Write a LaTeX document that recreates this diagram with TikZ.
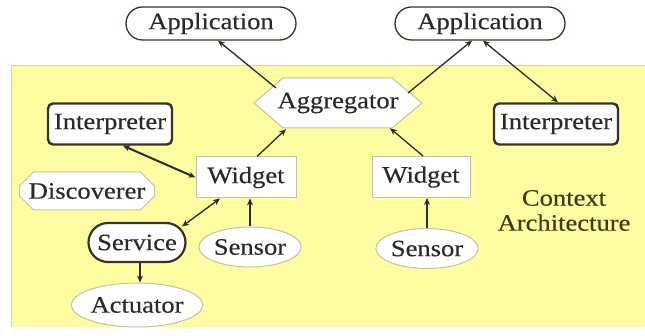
\documentclass[tikz,border=0pt]{standalone}
\usepackage{fontspec}
\setmainfont{Liberation Serif}[FakeStretch=1.13,FakeBold=0.3]
\usetikzlibrary{shapes.geometric,shapes.misc,arrows.meta,calc}

\definecolor{panel}{RGB}{255,253,162}
\definecolor{paneledge}{RGB}{215,213,165}
\definecolor{darkedge}{RGB}{55,52,36}
\definecolor{softedge}{RGB}{196,194,165}
\definecolor{ink}{RGB}{42,42,38}
\definecolor{olive}{RGB}{62,60,22}

\begin{document}
\begin{tikzpicture}[x=1pt,y=-1pt,
  every node/.style={font=\fontsize{23.5}{25}\selectfont, text=ink, inner sep=0pt},
  appbox/.style={rounded rectangle, draw=darkedge, line width=1.3pt, fill=white,
    minimum width=170pt, minimum height=33pt},
  interp/.style={rectangle, rounded corners=5pt, draw=darkedge, line width=2.4pt,
    fill=white, minimum width=124pt, minimum height=41pt},
  widgetbox/.style={rectangle, draw=softedge, line width=1pt, fill=white,
    minimum width=100pt, minimum height=41pt},
  oval/.style={ellipse, draw=softedge, line width=1pt, fill=white,
    minimum width=94pt, minimum height=40pt},
  servbox/.style={rounded rectangle, draw=darkedge, line width=2.2pt, fill=white,
    minimum width=97pt, minimum height=39pt},
  discbox/.style={chamfered rectangle, chamfered rectangle xsep=7pt,
    chamfered rectangle ysep=7pt, draw=softedge, line width=1pt, fill=white,
    minimum width=135pt, minimum height=38pt},
  conn/.style={draw=ink, line width=1.3pt, -{Stealth[length=7pt,width=6pt]}},
  dconn/.style={draw=ink, line width=1.3pt, {Stealth[length=7pt,width=6pt]}-{Stealth[length=7pt,width=6pt]}},
]
\useasboundingbox (0,0) rectangle (645,336);

% yellow panel holding the context architecture
\fill[panel] (11,65) rectangle (645,327);
\draw[paneledge, line width=0.8pt] (645,65) -- (11,65) -- (11,327);

% applications outside the panel
\node[appbox] (app1) at (211,23.5) {Application};
\node[appbox] (app2) at (480,23.5) {Application};

% aggregator hexagon
\draw[softedge, line width=1pt, fill=white]
  (254,103) -- (283,78) -- (392,78) -- (422,103) -- (392,128) -- (283,128) -- cycle;
\node[minimum width=167pt, minimum height=50pt] (agg) at (338,103) {Aggregator};

% interpreters
\node[interp] (int1) at (110,124) {Interpreter};
\node[interp] (int2) at (556,124) {Interpreter};

% widgets
\node[widgetbox] (w1) at (246,177.5) {Widget};
\node[widgetbox, minimum width=98pt] (w2) at (421,177) {Widget};

% discoverer, service, sensors, actuator
\node[discbox] (disc) at (87,191) {Discoverer};
\node[servbox] (serv) at (137,242.5) {Service};
\node[oval] (s1) at (250,247) {Sensor};
\node[oval] (s2) at (427,248.5) {Sensor};
\node[oval, minimum width=110pt, minimum height=44pt] (act) at (137,305) {Actuator};

% caption
\node[text=olive, align=center, font=\fontsize{23.5}{25}\selectfont] (cap) at (564,210.5)
  {Context\\Architecture};

% connectors
\draw[conn] ($(agg.center)+(-62,-15)$) -- ([xshift=7pt]app1.south);
\draw[conn] ($(agg.center)+(70,-10)$) -- ([xshift=-8pt]app2.south);
\draw[dconn] ([xshift=3pt]app2.south) -- ([xshift=2pt]int2.north);
\draw[conn] ([xshift=11pt]w1.north) -- ($(agg.south)+(-52,1)$);
\draw[conn] ([xshift=2pt]w2.north) -- ($(agg.south)+(52,0)$);
\draw[dconn, line width=2pt] ([xshift=13pt]int1.south) -- (w1.west);
\draw[dconn] ([xshift=-26pt]w1.south) -- ($(serv.center)+(45,-16)$);
\draw[conn] (s1.north) -- (s1.north |- w1.south);
\draw[conn] (s2.north) -- (s2.north |- w2.south);
\draw[conn] ([xshift=3pt]serv.south) -- ([xshift=3pt]serv.south |- act.north);
\end{tikzpicture}
\end{document}
